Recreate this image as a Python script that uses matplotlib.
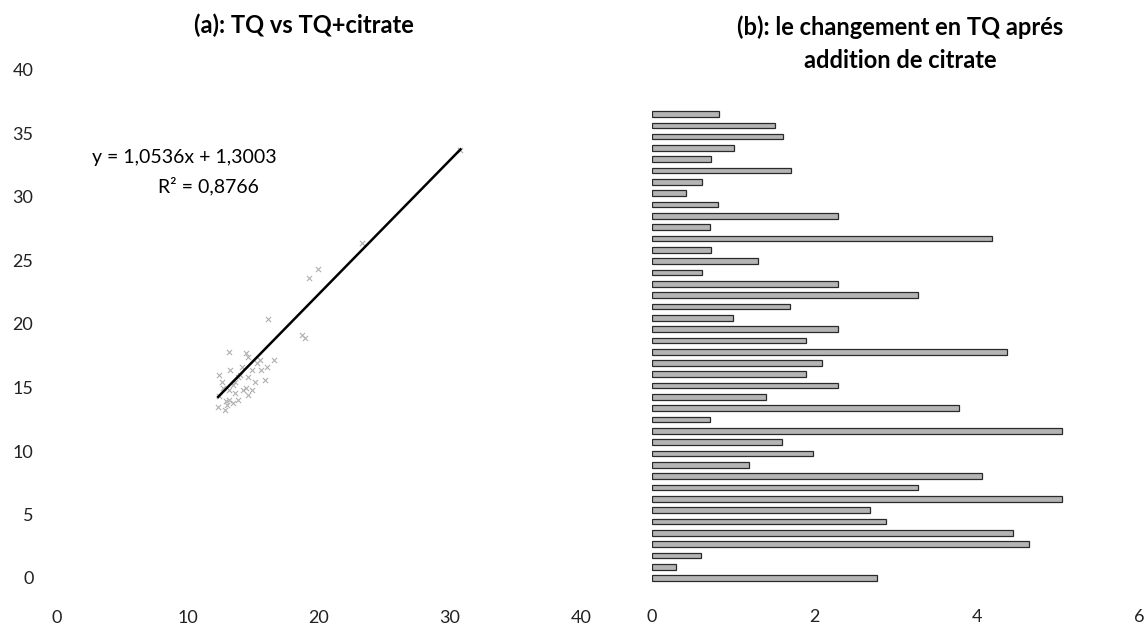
import numpy as np
import matplotlib
matplotlib.use('Agg')
import matplotlib.pyplot as plt

plt.rcParams['font.family'] = ['Lato', 'DejaVu Sans']

# (a) TQ vs TQ+citrate
tq = [30.8, 23.3, 19.2, 19.9, 18.7, 16.1, 13.1, 14.4, 14.6, 16.6,
      12.4, 12.6, 14.1, 14.9, 14.6, 15.6, 13.8, 13.6, 14.2, 14.4,
      13.1, 13.4, 12.4, 12.3, 12.8, 13.8, 14.6, 15.1, 15.9, 15.3,
      16.0, 13.2, 12.7, 13.1, 14.9, 13.6, 12.9, 13.4, 14.0, 15.5,
      18.9, 13.0]
tq_citrate = [33.7, 26.4, 23.6, 24.3, 19.1, 20.4, 17.8, 17.7, 17.4, 17.2,
              16.0, 15.4, 16.6, 16.4, 15.8, 16.4, 15.8, 14.6, 14.8, 15.0,
              14.0, 13.8, 14.3, 13.5, 13.2, 14.0, 14.4, 15.4, 15.6, 16.9,
              16.6, 16.4, 15.0, 14.8, 14.8, 15.4, 13.9, 15.2, 16.0, 17.2,
              18.9, 13.6]
slope = 1.0536
intercept = 1.3003
r2 = 0.8766

# (b) change in TQ after citrate, bottom bar first
change = [2.77, 0.30, 0.60, 4.64, 4.45, 2.88, 2.68, 5.05, 3.28, 4.06,
          1.19, 1.98, 1.60, 5.05, 0.71, 3.78, 1.40, 2.29, 1.90, 2.09,
          4.37, 1.90, 2.29, 1.00, 1.70, 3.28, 2.29, 0.62, 1.31, 0.73,
          4.19, 0.71, 2.29, 0.81, 0.42, 0.62, 1.71, 0.73, 1.01, 1.61,
          1.51, 0.83]

W, H = 1147, 632
fig = plt.figure(figsize=(W / 100, H / 100), dpi=100)


def fig_text(x, y, s, **kw):
    # x, y in pixels from top-left
    fig.text(x / W, 1 - y / H, s, ha='center', va='center', **kw)


# left panel
ax1 = fig.add_axes([57 / W, 1 - 578 / H, 524 / W, 508 / H])
ax1.scatter(tq, tq_citrate, marker='x', s=14, color='#b0b0b0', linewidths=0.8, zorder=2)
xs = np.array([min(tq), max(tq)])
ax1.plot(xs, slope * xs + intercept, color='black', lw=1.8, zorder=3)
ax1.set_xlim(0, 40)
ax1.set_ylim(0, 40)
ax1.set_xticks(range(0, 41, 10))
ax1.set_yticks(range(0, 41, 5))
ax1.tick_params(axis='x', length=0, pad=23, labelsize=13, labelcolor='#222222')
ax1.tick_params(axis='y', length=0, pad=17, labelsize=13, labelcolor='#222222')
for s in ax1.spines.values():
    s.set_visible(False)

# right panel
ax2 = fig.add_axes([652 / W, 1 - 590 / H, 487 / W, 520 / H])
pos = np.arange(len(change))
ax2.barh(pos, change, height=0.5, color='#b5b5b5', edgecolor='#2a2a2a', linewidth=0.9)
ax2.set_xlim(0, 6)
ax2.set_ylim(-1.06, 44.89)
ax2.set_xticks(range(0, 7, 2))
ax2.set_yticks([])
ax2.tick_params(axis='x', length=0, pad=14, labelsize=13, labelcolor='#222222')
for s in ax2.spines.values():
    s.set_visible(False)

# titles and trendline label
fig_text(304, 25, '(a): TQ vs TQ+citrate', fontsize=17, fontweight='bold')
fig_text(900, 27, '(b): le changement en TQ aprés', fontsize=17, fontweight='bold')
fig_text(900, 61, 'addition de citrate', fontsize=17, fontweight='bold')
fig_text(184, 157, 'y = 1,0536x + 1,3003', fontsize=14)
fig_text(208, 186, 'R² = 0,8766', fontsize=14)

fig.savefig('out.png', dpi=100)
